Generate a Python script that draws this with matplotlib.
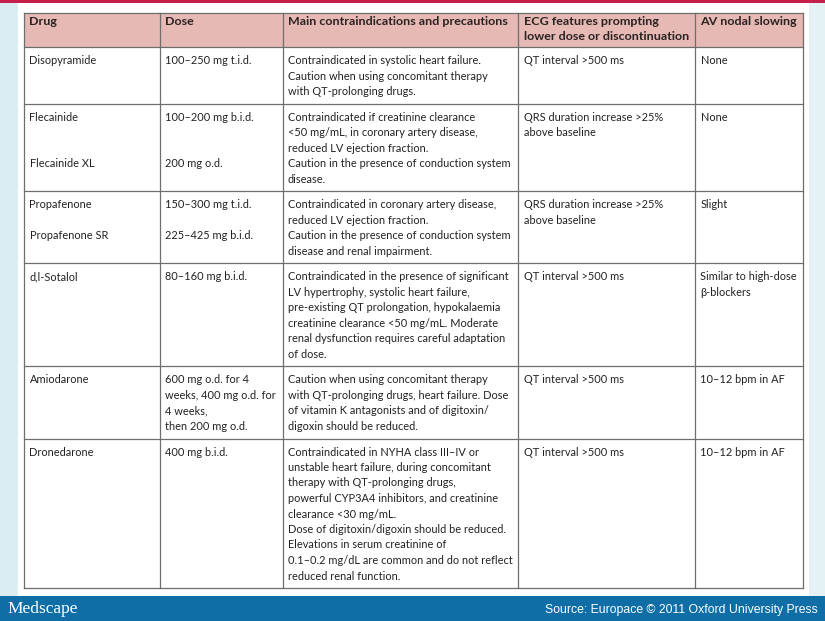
import matplotlib.pyplot as plt
from matplotlib.patches import Rectangle

# table content, one list of lines per cell ("" keeps a line empty)
headers = ["Drug", "Dose", "Main contraindications and precautions",
           "ECG features prompting\nlower dose or discontinuation", "AV nodal slowing"]

drugs = [
    ["Disopyramide"],
    ["Flecainide", "", "", "Flecainide XL"],
    ["Propafenone", "", "Propafenone SR"],
    ["d,l-Sotalol"],
    ["Amiodarone"],
    ["Dronedarone"],
]
doses = [
    ["100–250 mg t.i.d."],
    ["100–200 mg b.i.d.", "", "", "200 mg o.d."],
    ["150–300 mg t.i.d.", "", "225–425 mg b.i.d."],
    ["80–160 mg b.i.d."],
    ["600 mg o.d. for 4", "weeks, 400 mg o.d. for", "4 weeks,", "then 200 mg o.d."],
    ["400 mg b.i.d."],
]
contra = [
    ["Contraindicated in systolic heart failure.",
     "Caution when using concomitant therapy",
     "with QT-prolonging drugs."],
    ["Contraindicated if creatinine clearance",
     "<50 mg/mL, in coronary artery disease,",
     "reduced LV ejection fraction.",
     "Caution in the presence of conduction system",
     "disease."],
    ["Contraindicated in coronary artery disease,",
     "reduced LV ejection fraction.",
     "Caution in the presence of conduction system",
     "disease and renal impairment."],
    ["Contraindicated in the presence of significant",
     "LV hypertrophy, systolic heart failure,",
     "pre-existing QT prolongation, hypokalaemia",
     "creatinine clearance <50 mg/mL. Moderate",
     "renal dysfunction requires careful adaptation",
     "of dose."],
    ["Caution when using concomitant therapy",
     "with QT-prolonging drugs, heart failure. Dose",
     "of vitamin K antagonists and of digitoxin/",
     "digoxin should be reduced."],
    ["Contraindicated in NYHA class III–IV or",
     "unstable heart failure, during concomitant",
     "therapy with QT-prolonging drugs,",
     "powerful CYP3A4 inhibitors, and creatinine",
     "clearance <30 mg/mL.",
     "Dose of digitoxin/digoxin should be reduced.",
     "Elevations in serum creatinine of",
     "0.1–0.2 mg/dL are common and do not reflect",
     "reduced renal function."],
]
ecg = [
    ["QT interval >500 ms"],
    ["QRS duration increase >25%", "above baseline"],
    ["QRS duration increase >25%", "above baseline"],
    ["QT interval >500 ms"],
    ["QT interval >500 ms"],
    ["QT interval >500 ms"],
]
av_slowing = [
    ["None"],
    ["None"],
    ["Slight"],
    ["Similar to high-dose", "β-blockers"],
    ["10–12 bpm in AF"],
    ["10–12 bpm in AF"],
]
columns = [drugs, doses, contra, ecg, av_slowing]

col_edges = [24, 159.5, 282.5, 518, 695, 803]
FONT = ['Lato', 'DejaVu Sans']
W, H = 825, 621

fig = plt.figure(figsize=(8.25, 6.21), dpi=100)
ax = fig.add_axes([0, 0, 1, 1])
ax.set_xlim(0, W)
ax.set_ylim(H, 0)
ax.axis('off')
renderer = fig.canvas.get_renderer()


def fit_size(text, target, weight='normal', family=FONT):
    t = ax.text(0, 0, text, fontsize=10, family=family, fontweight=weight)
    w = t.get_window_extent(renderer).width
    t.remove()
    return 10 * target / w


body_fs = fit_size("Contraindicated in the presence of significant", 219)
head_fs = fit_size("Main contraindications and precautions", 220, 'bold')

# background pieces
ax.add_patch(Rectangle((0, 0), 18, 596, color='#dcedf2', lw=0))
ax.add_patch(Rectangle((809, 0), 16, 596, color='#e4f1f5', lw=0))
ax.add_patch(Rectangle((0, 0), W, 2.6, color='#c51f4b', lw=0))
ax.add_patch(Rectangle((0, 596), W, 25, color='#106ea7', lw=0))

# header
head_top, head_bot = 13, 47
ax.add_patch(Rectangle((col_edges[0], head_top), col_edges[-1] - col_edges[0],
                       head_bot - head_top, facecolor='#e6b9b4', lw=0))
for j, h in enumerate(headers):
    for k, line in enumerate(h.split("\n")):
        ax.text(col_edges[j] + 5.5, head_top + 12 + k * 15, line, fontsize=head_fs,
                family=FONT, fontweight='bold', color='#2b2222', va='baseline')

# body rows
LINE, PAD = 15.5, 12.8
y = head_bot
row_edges = [head_top, head_bot]
for i in range(len(drugs)):
    n = max(len(col[i]) for col in columns)
    for j, col in enumerate(columns):
        for k, line in enumerate(col[i]):
            ax.text(col_edges[j] + 5.5, y + PAD + 4.2 + k * LINE, line, fontsize=body_fs,
                    family=FONT, color='#222222', va='baseline')
    y += (n - 1) * LINE + 2 * PAD
    row_edges.append(y)

grid = dict(color='#6e6e6e', lw=0.9)
for ry in row_edges:
    ax.plot([col_edges[0], col_edges[-1]], [ry, ry], **grid)
for cx in col_edges:
    ax.plot([cx, cx], [row_edges[0], row_edges[-1]], **grid)

# footer
ax.text(7, 613, "Medscape", fontsize=12.5, family='Liberation Serif', color='white',
        va='baseline')
src_fs = fit_size("Source: Europace © 2011 Oxford University Press", 275,
                  family='Liberation Sans')
ax.text(818, 613, "Source: Europace © 2011 Oxford University Press", fontsize=src_fs,
        family='Liberation Sans', color='white', ha='right', va='baseline')

fig.savefig('out.png', dpi=100)
